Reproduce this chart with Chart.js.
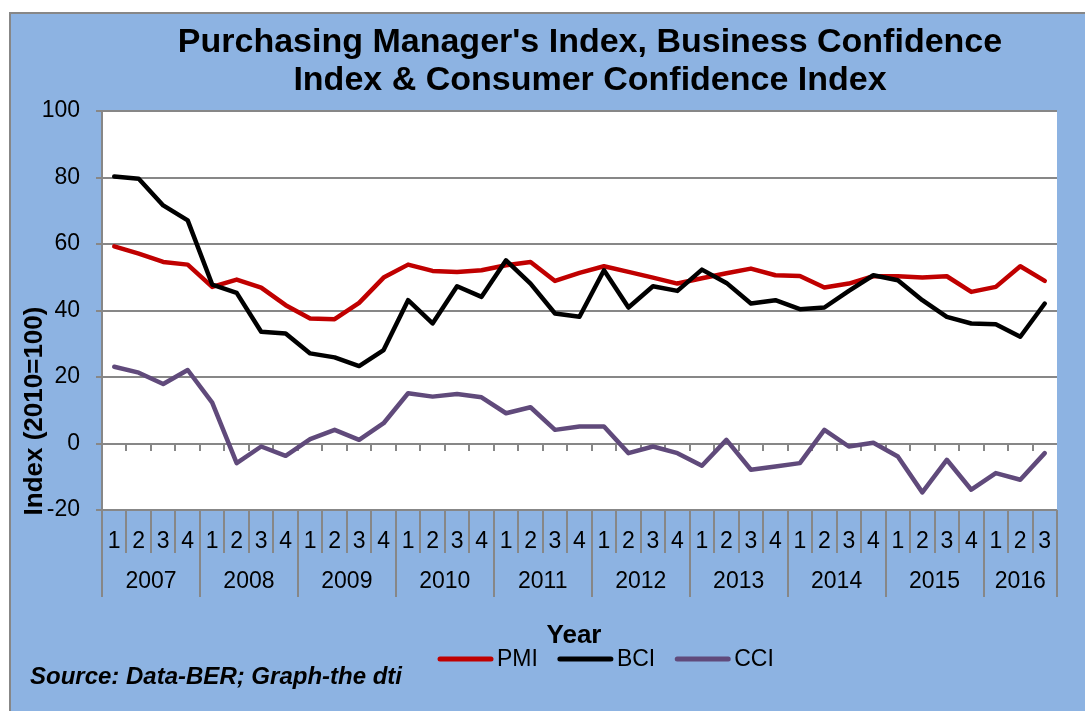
<!DOCTYPE html>
<html>
<head>
<meta charset="utf-8">
<script src="https://cdn.jsdelivr.net/npm/chart.js@4"></script>
<style>
  html, body { margin: 0; padding: 0; background: #fff; }
  #wrap { width: 1085px; height: 711px; }
</style>
</head>
<body>
<div id="wrap"><canvas id="pmi_chart" width="1085" height="711"></canvas></div>
<script>
// quarters per year (2016 stops at Q3)
var years = ['2007', '2008', '2009', '2010', '2011', '2012', '2013', '2014', '2015', '2016'];
var quartersPerYear = [4, 4, 4, 4, 4, 4, 4, 4, 4, 3];

var pmi = [59.3, 57.1, 54.6, 53.8, 47.1, 49.3, 46.9, 41.6, 37.6, 37.4, 42.3, 49.9,
           53.8, 51.9, 51.6, 52.1, 53.6, 54.6, 48.9, 51.3, 53.3, 51.6, 49.9, 48.1,
           49.7, 51.2, 52.6, 50.6, 50.4, 46.9, 48.1, 50.3, 50.3, 49.9, 50.3, 45.6,
           47.1, 53.3, 48.9];
var bci = [80.3, 79.6, 71.6, 67.1, 47.8, 45.3, 33.6, 33.1, 27.1, 25.9, 23.3, 28.1,
           43.1, 36.1, 47.3, 44.1, 55.1, 48.1, 39.1, 38.1, 52.1, 40.9, 47.3, 45.9,
           52.3, 48.3, 42.1, 43.1, 40.4, 40.9, 45.9, 50.6, 49.1, 43.1, 38.1, 36.1,
           35.9, 32.1, 42.1];
var cci = [23.1, 21.3, 17.9, 22.1, 12.3, -5.9, -0.9, -3.7, 1.3, 4.1, 1.1, 6.1,
           15.1, 14.1, 14.9, 13.9, 9.1, 10.9, 4.1, 5.1, 5.1, -2.9, -0.9, -2.9,
           -6.7, 1.1, -7.9, -6.9, -5.9, 4.1, -0.9, 0.2, -3.9, -14.7, -4.9, -13.9,
           -8.9, -10.9, -2.9];

var titleLines = ["Purchasing Manager's Index, Business Confidence", "Index & Consumer Confidence Index"];
var yTitle = 'Index (2010=100)';
var xTitle = 'Year';
var sourceText = 'Source: Data-BER; Graph-the dti';

var labels = [];
years.forEach((y, i) => {
    for (let q = 1; q <= quartersPerYear[i]; q++) labels.push(String(q));
});

var FONT = '"Liberation Sans", Arial, sans-serif';
var GRID = '#878787';
var BLUE = '#8db3e2';

var decor = {
    id: 'decor',
    beforeDraw(chart) {
        const ctx = chart.ctx, a = chart.chartArea;
        ctx.save();
        ctx.fillStyle = '#fff';
        ctx.fillRect(0, 0, chart.width, chart.height);
        ctx.fillStyle = BLUE;
        ctx.fillRect(10, 13, chart.width - 10, chart.height - 13);
        ctx.strokeStyle = GRID;
        ctx.lineWidth = 2;
        ctx.strokeRect(10, 13, chart.width + 10, chart.height + 10);
        ctx.fillStyle = '#fff';
        ctx.fillRect(a.left, a.top, a.right - a.left, a.bottom - a.top);
        ctx.restore();
    },
    beforeDatasetsDraw(chart) {
        // little tick marks hanging off the 0 line
        const ctx = chart.ctx, x = chart.scales.x, y = chart.scales.y;
        const step = x.getPixelForValue(1) - x.getPixelForValue(0);
        const y0 = Math.round(y.getPixelForValue(0));
        ctx.save();
        ctx.strokeStyle = GRID;
        ctx.lineWidth = 2;
        ctx.beginPath();
        for (let i = 1; i < labels.length; i++) {
            const bx = Math.round(x.getPixelForValue(i) - step / 2);
            ctx.moveTo(bx, y0);
            ctx.lineTo(bx, y0 + 7);
        }
        ctx.stroke();
        ctx.restore();
    },
    afterDraw(chart) {
        const ctx = chart.ctx, x = chart.scales.x, a = chart.chartArea;
        const step = x.getPixelForValue(1) - x.getPixelForValue(0);
        ctx.save();

        // category table lines under the plot
        ctx.strokeStyle = GRID;
        ctx.lineWidth = 2;
        ctx.beginPath();
        let idx = 0;
        const yearStarts = [];
        years.forEach((yr, i) => {
            yearStarts.push(idx);
            idx += quartersPerYear[i];
        });
        yearStarts.push(idx);
        for (let i = 0; i <= labels.length; i++) {
            const bx = Math.round(x.getPixelForValue(i) - step / 2);
            const isYear = yearStarts.indexOf(i) >= 0;
            ctx.moveTo(bx, a.bottom);
            ctx.lineTo(bx, isYear ? 597 : 553);
        }
        ctx.stroke();

        // year labels
        ctx.fillStyle = '#000';
        ctx.font = '23px ' + FONT;
        ctx.textAlign = 'center';
        ctx.textBaseline = 'middle';
        years.forEach((yr, i) => {
            const x0 = x.getPixelForValue(yearStarts[i]) - step / 2;
            const x1 = x.getPixelForValue(yearStarts[i + 1]) - step / 2;
            ctx.fillText(yr, (x0 + x1) / 2, 582);
        });

        // title
        ctx.font = 'bold 34px ' + FONT;
        ctx.textBaseline = 'alphabetic';
        ctx.fillText(titleLines[0], 590, 52);
        ctx.fillText(titleLines[1], 590, 90);

        // axis titles
        ctx.font = 'bold 26px ' + FONT;
        ctx.textBaseline = 'middle';
        ctx.fillText(xTitle, 574, 636);
        ctx.save();
        ctx.translate(35, 411);
        ctx.rotate(-Math.PI / 2);
        ctx.fillText(yTitle, 0, 0);
        ctx.restore();

        // source note
        ctx.font = 'italic bold 24px ' + FONT;
        ctx.textAlign = 'left';
        ctx.fillText(sourceText, 30, 677);

        // legend
        ctx.font = '23px ' + FONT;
        let lx = 438;
        chart.data.datasets.forEach(ds => {
            ctx.strokeStyle = ds.borderColor;
            ctx.lineWidth = 5;
            ctx.lineCap = 'round';
            ctx.beginPath();
            ctx.moveTo(lx + 2, 659);
            ctx.lineTo(lx + 53, 659);
            ctx.stroke();
            ctx.fillStyle = '#000';
            ctx.fillText(ds.label, lx + 59, 660);
            lx += 59 + ctx.measureText(ds.label).width + 20;
        });
        ctx.restore();
    }
};

Chart.defaults.font.family = FONT;
Chart.defaults.color = '#000';

var chart = new Chart('pmi_chart', {
    type: 'line',
    data: {
        labels: labels,
        datasets: [
            { label: 'PMI', data: pmi, borderColor: '#c00000', order: 3 },
            { label: 'BCI', data: bci, borderColor: '#000000', order: 2 },
            { label: 'CCI', data: cci, borderColor: '#604a7b', order: 1 }
        ]
    },
    options: {
        responsive: false,
        animation: false,
        layout: { padding: { left: 0, top: 111, right: 28, bottom: 0 } },
        elements: {
            line: { borderWidth: 4.5, tension: 0, borderJoinStyle: 'round', borderCapStyle: 'round', fill: false },
            point: { radius: 0, hoverRadius: 0 }
        },
        plugins: {
            legend: { display: false },
            title: { display: false },
            tooltip: { enabled: false }
        },
        scales: {
            x: {
                offset: true,
                grid: { display: false, drawTicks: false },
                border: { display: false },
                ticks: { font: { size: 23 }, maxRotation: 0, autoSkip: false, padding: 18 },
                afterFit(scale) { scale.height = 201; }
            },
            y: {
                min: -20,
                max: 100,
                ticks: { stepSize: 20, font: { size: 23 }, padding: 16 },
                grid: { color: GRID, lineWidth: 2, tickLength: 6, tickColor: GRID },
                border: { display: true, color: GRID, width: 2 },
                afterFit(scale) { scale.width = 102; }
            }
        }
    },
    plugins: [decor]
});
</script>
</body>
</html>
